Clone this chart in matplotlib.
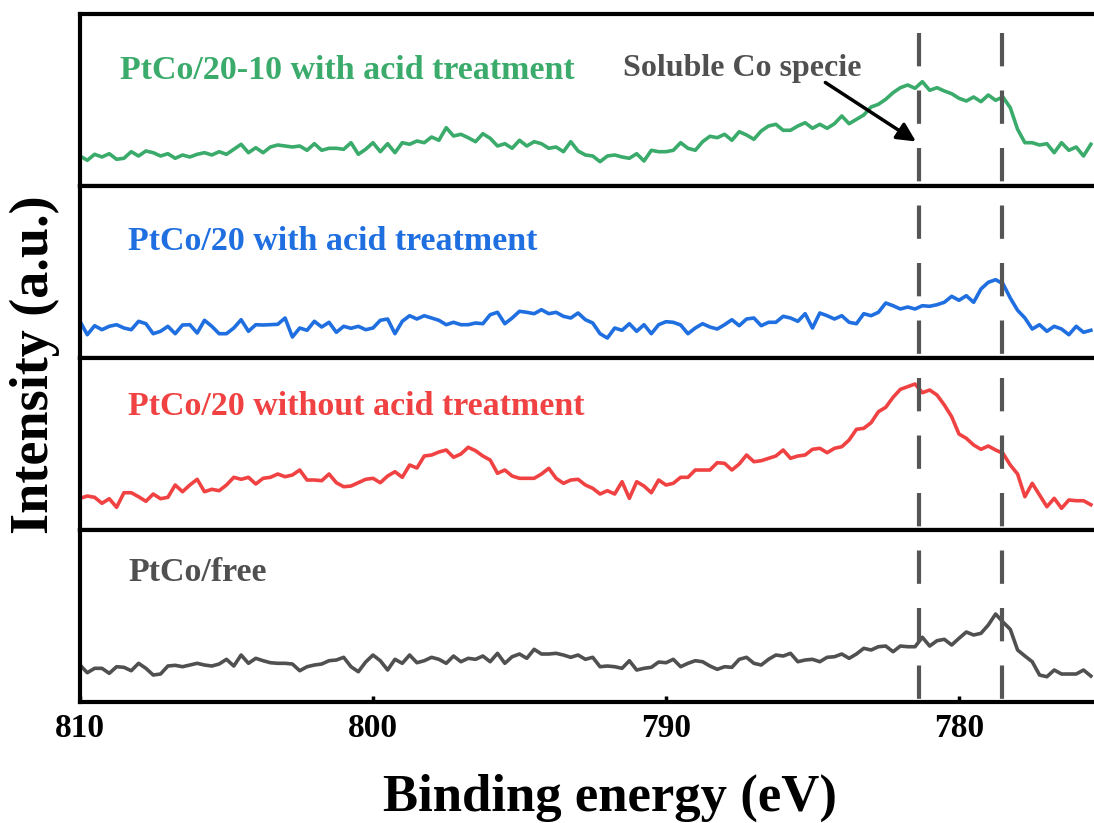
import numpy as np
import matplotlib
matplotlib.use('Agg')
import matplotlib.pyplot as plt
from matplotlib.lines import Line2D
from matplotlib.transforms import blended_transform_factory

plt.rcParams['font.family'] = ['Liberation Serif', 'DejaVu Serif']
plt.rcParams['font.weight'] = 'bold'

# Co 2p XPS spectra, binding energy grid (eV), intensities in a.u.
energy = np.linspace(810, 775.5, 139)

green_acid_2010 = [30, 25.7, 31.7, 29, 32.3, 26.7, 27.7, 34.3, 30, 35, 33.3, 30, 32.3, 27.7, 31, 29, 31.7, 33.3, 31, 34.3,
                   31.7, 36.7, 41.7, 33.3, 38.3, 33.3, 39, 41, 40, 39, 40, 35.7, 42.3, 35.7, 37.7, 37.7, 36.7, 43.3, 31.7, 36.7,
                   43.3, 34.3, 42.3, 33.3, 43.3, 41.7, 45, 43.3, 49, 45.7, 58.3, 50, 51.7, 48.3, 44.3, 52.3, 47.7, 40, 42.3, 37.7,
                   45.7, 40, 44.3, 42.3, 37.7, 39, 34.3, 44.3, 35, 31,
                   30, 24.3, 30, 31, 29, 27.7, 32.3, 25, 35.7, 34.3, 34.3, 35.7, 43.3, 37.7, 35.7, 44.3, 49.7, 48.3, 51.7, 45.7,
                   54.3, 51, 46.7, 55, 60, 61.7, 55.7, 55.7, 60, 63.3, 57.7, 61.7, 57.7, 62.3, 70, 62.3, 66.7, 71, 79, 81.7,
                   86.7, 93.3, 98.3, 101, 97.7, 104.3, 95.7, 98.3, 95, 92.3, 87.7, 85, 89, 84.3, 91, 85.7, 89, 78.3, 56.7, 43.3,
                   43.3, 41, 42.3, 33.3, 43.3, 35.7, 39, 30, 41.7]

blue_acid_20 = [36.7, 23.3, 32.3, 28.3, 31.7, 33.3, 30, 28.3, 36.7, 34.3, 24.3, 26.7, 31.7, 24.3, 33, 33.3, 25, 37.7, 31.7, 24.3,
                24.3, 30, 38.3, 26.7, 33.3, 33, 33.3, 33.7, 40, 21, 30, 27.7, 36.7, 31, 35.7, 25.7, 31.7, 29.7, 31.7, 28.3,
                30, 37.7, 39, 24.3, 36.7, 42.3, 39, 42.3, 40, 37.7, 33.3, 35.7, 33.3, 33.3, 35, 34.3, 43.3, 45.7, 34.3, 40,
                46.7, 45.7, 44.3, 48.3, 44.3, 45.7, 41.7, 40, 45, 38.3,
                35, 24.3, 20, 30, 27.7, 34.3, 26.7, 33.3, 24.3, 33.3, 36.3, 35.7, 33, 24.3, 30, 34.3, 31, 29, 33.3, 38.3,
                32.3, 39, 40, 32.3, 35.7, 35.7, 41.7, 40, 36.7, 44.3, 30, 45, 42.3, 39, 42.3, 35.7, 34.3, 44.3, 42.3, 45.7,
                55, 52.3, 49, 51, 49, 52.3, 51.7, 53.3, 55.7, 61.7, 57.7, 62.3, 55.7, 69, 75.7, 78.3, 74.3, 60, 47.7, 40,
                29, 33.3, 26.7, 31.7, 29, 23.3, 31.7, 25.7, 27.7]

red_no_acid_20 = [31.7, 34, 32.7, 26.7, 31.3, 22.7, 37.3, 37.3, 33.3, 28.7, 36, 31.3, 32.7, 45, 38.3, 45, 50.7, 38.3, 40.7, 39.3,
                  45, 52.7, 50.7, 52.7, 46, 51.7, 52.7, 56, 53.3, 55, 60, 50, 50, 49.3, 56, 47.3, 43.3, 44, 47.3, 50.7,
                  51.7, 47.3, 54, 58.3, 52.7, 65, 62, 74, 75, 78, 80, 72.7, 76, 82.7, 79.3, 74, 70, 56.7, 60, 54,
                  51.7, 51.7, 51.7, 56, 61.7, 51.7, 46.7, 50, 50.7, 45,
                  41.7, 36, 39.3, 36, 48.3, 31.7, 48.3, 44, 37.3, 50, 45, 46.7, 52.7, 52.7, 60, 60, 60, 67.3, 66.7, 60,
                  66, 75, 68.3, 69.3, 71.7, 74, 80, 71.7, 74, 75, 80.7, 81.7, 77.3, 81.7, 83.3, 90, 100.7, 101.7, 107.3, 118.3,
                  122.7, 132.7, 140.7, 143.3, 146, 137.3, 140, 135, 125, 113.3, 96, 91.7, 85, 80.7, 84, 80, 76.7, 65, 56, 33.3,
                  46.7, 35, 23.3, 31.7, 21.7, 30, 29.3, 29.3, 25.3]

gray_free = [37, 29.3, 33.7, 33.7, 28.7, 35.3, 34.7, 31.3, 38.7, 33.7, 27, 28, 36, 36.7, 35.3, 37, 38.7, 37, 36, 38,
             42.7, 36, 47, 38.7, 43.7, 41.3, 39.3, 38.7, 38.7, 38, 31.3, 35.3, 37, 38, 41.3, 42, 44.7, 35.3, 30.3, 40,
             47, 41.3, 32, 42.7, 38.7, 47, 39.3, 41.3, 44.7, 42.7, 38.7, 46, 40.3, 43.7, 42.7, 46, 40.3, 48.7, 38.7, 45.3,
             48, 43.7, 52.7, 48, 48, 48.7, 47, 44.7, 47, 42.7,
             44.7, 35.3, 36, 35.3, 33.7, 41.3, 32, 33.7, 34.7, 40, 39.3, 42.7, 35.3, 38.7, 41.3, 40.3, 36, 32.7, 35.3, 34.7,
             42.7, 44.7, 38.7, 37, 42.7, 47, 46, 48.7, 40.3, 42, 42.7, 40.3, 44.7, 45.3, 48, 43.7, 48, 53.7, 52, 55.3,
             56, 50.3, 56, 55.3, 55.3, 64.7, 56, 61.3, 62.7, 57, 63.7, 70, 67, 68.7, 77, 88, 80, 72.7, 52, 46,
             40.3, 27, 25.3, 32, 28, 28, 28, 32, 26]

labels = ['PtCo/20-10 with acid treatment', 'PtCo/20 with acid treatment',
          'PtCo/20 without acid treatment', 'PtCo/free']
colors = ['#3aab6b', '#1f6fe0', '#f04242', '#505050']
spectra = [green_acid_2010, blue_acid_20, red_no_acid_20, gray_free]
label_pos = [(808.63, 115), (808.36, 117), (808.36, 124), (808.36, 130)]
marker_lines = [781.37, 778.53]

fig = plt.figure(figsize=(10.94, 8.23), dpi=100)
left, width = 0.0731, 0.9374
bottom, h = 0.147, 0.209

axes = []
for i, (lab, data, col) in enumerate(zip(labels, spectra, colors)):
    ax = fig.add_axes([left, bottom + (3 - i) * h, width, h])
    ax.plot(energy, data, color=col, lw=2.6)
    ax.set_xlim(810, 775)
    ax.set_ylim(0, 172)
    ax.set_yticks([])
    for s in ax.spines.values():
        s.set_linewidth(3)
    ax.text(label_pos[i][0], label_pos[i][1], lab, color=col, fontsize=24.5,
            fontweight='bold', va='center', ha='left')
    if i < 3:
        ax.set_xticks([])
    else:
        ax.set_xticks([810, 800, 790, 780])
        ax.set_xticks([805, 795, 785], minor=True)
        ax.tick_params(axis='x', which='major', direction='in', length=4, width=2.5,
                       labelsize=24, pad=8)
        ax.tick_params(axis='x', which='minor', direction='in', length=1.5, width=2)
    axes.append(ax)

top = axes[0]
top.text(791.47, 117, 'Soluble Co specie', color='#505050', fontsize=23,
         fontweight='bold', va='center', ha='left')
top.annotate('', xy=(781.39, 43), xytext=(784.64, 105),
             arrowprops=dict(arrowstyle='-|>', color='black', lw=2.5,
                             mutation_scale=28))

trans = blended_transform_factory(axes[3].transData, fig.transFigure)
for e in marker_lines:
    ln = Line2D([e, e], [0.96, 0.1495], transform=trans, color='#555555', lw=3,
                dashes=(8, 5.8), zorder=5)
    fig.add_artist(ln)

fig.text(0.5576, 0.031, 'Binding energy (eV)', fontsize=38, fontweight='bold',
         ha='center', va='center')
fig.text(0.032, 0.5565, 'Intensity (a.u.)', fontsize=39, fontweight='bold',
         ha='center', va='center', rotation=90)

fig.savefig('out.png', dpi=100)
